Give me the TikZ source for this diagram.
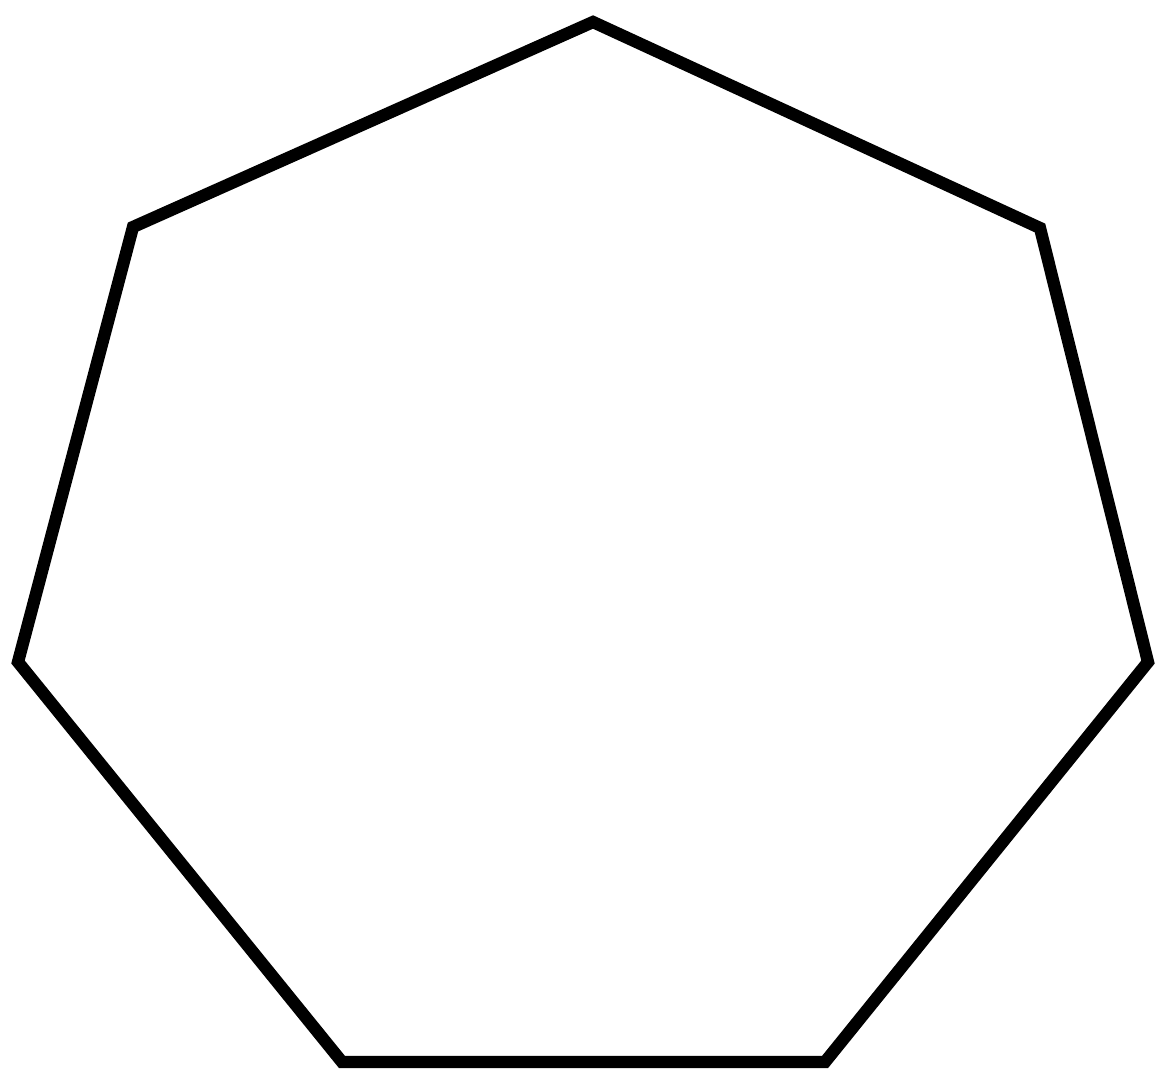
\documentclass[tikz,border=0pt]{standalone}
\usepackage{tikz}

\begin{document}
\begin{tikzpicture}[x=0.02cm, y=-0.02cm,
  edge/.style={draw, line width=7pt, line join=miter}]
\useasboundingbox (0,0) rectangle (1165,1076);
\coordinate (top) at (593,22);
\coordinate (ur) at (1040,228);
\coordinate (r) at (1148,662);
\coordinate (br) at (825,1062);
\coordinate (bl) at (342,1062);
\coordinate (l) at (18,662);
\coordinate (ul) at (133,227);
\draw[edge] (top) -- (ur) -- (r) -- (br) -- (bl) -- (l) -- (ul) -- cycle;
\end{tikzpicture}
\end{document}
